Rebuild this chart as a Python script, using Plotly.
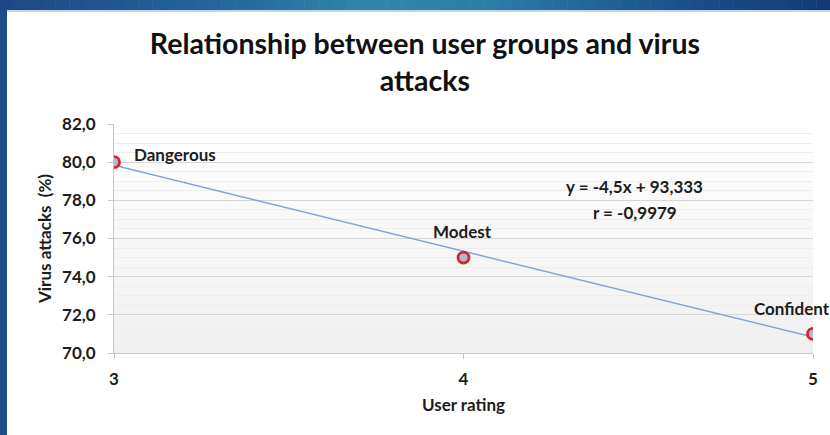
import numpy as np
import plotly.graph_objects as go

# User rating groups and share of virus attacks (%)
ratings = [3, 4, 5]
attacks = [80.0, 75.0, 71.0]
groups = ["Dangerous", "Modest", "Confident"]
y_ticks = [70, 72, 74, 76, 78, 80, 82]

# Linear trend and correlation
slope, intercept = np.polyfit(ratings, attacks, 1)
r_val = np.corrcoef(ratings, attacks)[0, 1]
trend_x = np.array([min(ratings), max(ratings)])
trend_y = slope * trend_x + intercept


def dec(v, n):
    return f"{v:.{n}f}".replace(".", ",")


eq_text = f"y = {dec(slope, 1)}x + {dec(intercept, 3)}"
r_text = f"r = {dec(r_val, 4)}"

FONT = "Lato, 'Open Sans', sans-serif"
TXT = "#1c1c1c"
FS = 17

fig = go.Figure()

fig.add_trace(go.Scatter(
    x=trend_x, y=trend_y, mode="lines",
    line=dict(color="#7ea7d3", width=1.5),
    hoverinfo="skip", showlegend=False,
))
fig.add_trace(go.Scatter(
    x=ratings, y=attacks, mode="markers",
    marker=dict(size=11, color="#a9bcd4", line=dict(color="#e0202a", width=2.8)),
    showlegend=False,
))

shapes = []
# soft vertical gradient behind the plot area
n_bands = 24
for i in range(n_bands):
    t = i / (n_bands - 1)
    g = int(round(255 - t * 15))
    shapes.append(dict(
        type="rect", xref="x domain", yref="y domain", layer="below",
        x0=0, x1=1, y0=1 - (i + 1) / n_bands, y1=1 - i / n_bands,
        fillcolor=f"rgb({g},{g},{g})", line=dict(width=0),
    ))

# blue slide frame along the top and left edges
left_px, right_px, top_px, bot_px = 114, 813, 124, 353
pw, ph = right_px - left_px, bot_px - top_px
stops = [(0.0, (28, 72, 132)), (0.25, (34, 100, 155)), (0.45, (46, 136, 170)),
         (0.6, (42, 124, 166)), (0.8, (26, 84, 142)), (1.0, (16, 58, 116))]
n_seg = 60
for i in range(n_seg):
    t = (i + 0.5) / n_seg
    for (a, ca), (b, cb) in zip(stops[:-1], stops[1:]):
        if a <= t <= b:
            f = (t - a) / (b - a)
            c = tuple(int(round(ca[k] + f * (cb[k] - ca[k]))) for k in range(3))
            break
    x0 = (i * 830 / n_seg - left_px) / pw
    x1 = ((i + 1) * 830 / n_seg + 0.5 - left_px) / pw
    shapes.append(dict(
        type="rect", xref="paper", yref="paper", layer="above",
        x0=x0, x1=x1, y0=(bot_px - 10) / ph, y1=(bot_px + 2) / ph,
        fillcolor=f"rgb{c}", line=dict(width=0),
    ))
shapes.append(dict(
    type="rect", xref="paper", yref="paper", layer="above",
    x0=-left_px / pw, x1=(830 - left_px) / pw,
    y0=(bot_px - 12) / ph, y1=(bot_px - 10) / ph,
    fillcolor="#c3d3e8", line=dict(width=0),
))
shapes.append(dict(
    type="rect", xref="paper", yref="paper", layer="above",
    x0=(-2 - left_px) / pw, x1=(7 - left_px) / pw,
    y0=(bot_px - 440) / ph, y1=(bot_px - 9) / ph,
    fillcolor="#1d4d88", line=dict(width=0),
))

annotations = [
    dict(x=ratings[0], y=attacks[0], text=f"<b>{groups[0]}</b>", showarrow=False,
         xanchor="left", yanchor="middle", xshift=18, yshift=8,
         font=dict(family=FONT, size=FS, color=TXT)),
    dict(x=ratings[1], y=attacks[1], text=f"<b>{groups[1]}</b>", showarrow=False,
         xanchor="center", yanchor="middle", xshift=-1, yshift=26,
         font=dict(family=FONT, size=FS, color=TXT)),
    dict(x=ratings[2], y=attacks[2], text=f"<b>{groups[2]}</b>", showarrow=False,
         xanchor="right", yanchor="middle", xshift=19, yshift=25,
         font=dict(family=FONT, size=FS, color=TXT)),
    dict(x=4.49, y=78.75, text=f"<b>{eq_text}</b>", showarrow=False,
         xanchor="center", yanchor="middle",
         font=dict(family=FONT, size=FS, color=TXT)),
    dict(x=4.49, y=77.38, text=f"<b>{r_text}</b>", showarrow=False,
         xanchor="center", yanchor="middle",
         font=dict(family=FONT, size=FS, color=TXT)),
]

fig.update_layout(
    width=830, height=435,
    margin=dict(l=114, r=17, t=124, b=82),
    paper_bgcolor="white", plot_bgcolor="white",
    separators=",.",
    title=dict(
        text="<b>Relationship between user groups and virus<br>attacks</b>",
        x=0.512, xanchor="center", y=0.877, yanchor="middle",
        font=dict(family=FONT, size=28.5, color="#111111"),
    ),
    shapes=shapes,
    annotations=annotations,
    xaxis=dict(
        range=[3, 5], tickvals=ratings, ticktext=[str(v) for v in ratings],
        showgrid=False, zeroline=False,
        showline=True, linecolor="#c8c8c8", linewidth=1,
        ticks="outside", ticklen=5, tickcolor="#c8c8c8",
        ticklabelstandoff=6,
        tickfont=dict(family=FONT, size=FS, color=TXT, weight="bold"),
        title=dict(text="<b>User rating</b>", standoff=10,
                   font=dict(family=FONT, size=FS, color=TXT)),
    ),
    yaxis=dict(
        range=[70, 82], tickvals=y_ticks, tickformat=".1f",
        showgrid=True, gridcolor="#d6d6d6", gridwidth=1,
        minor=dict(dtick=0.5, showgrid=True, gridcolor="#eeeeee"),
        zeroline=False,
        showline=True, linecolor="#c8c8c8", linewidth=1,
        ticks="outside", ticklen=5, tickcolor="#c8c8c8",
        ticklabelstandoff=9,
        tickfont=dict(family=FONT, size=FS, color=TXT, weight="bold"),
        title=dict(text="<b>Virus attacks  (%)</b>", standoff=6,
                   font=dict(family=FONT, size=FS, color=TXT)),
    ),
)

fig.write_html("out.html")
